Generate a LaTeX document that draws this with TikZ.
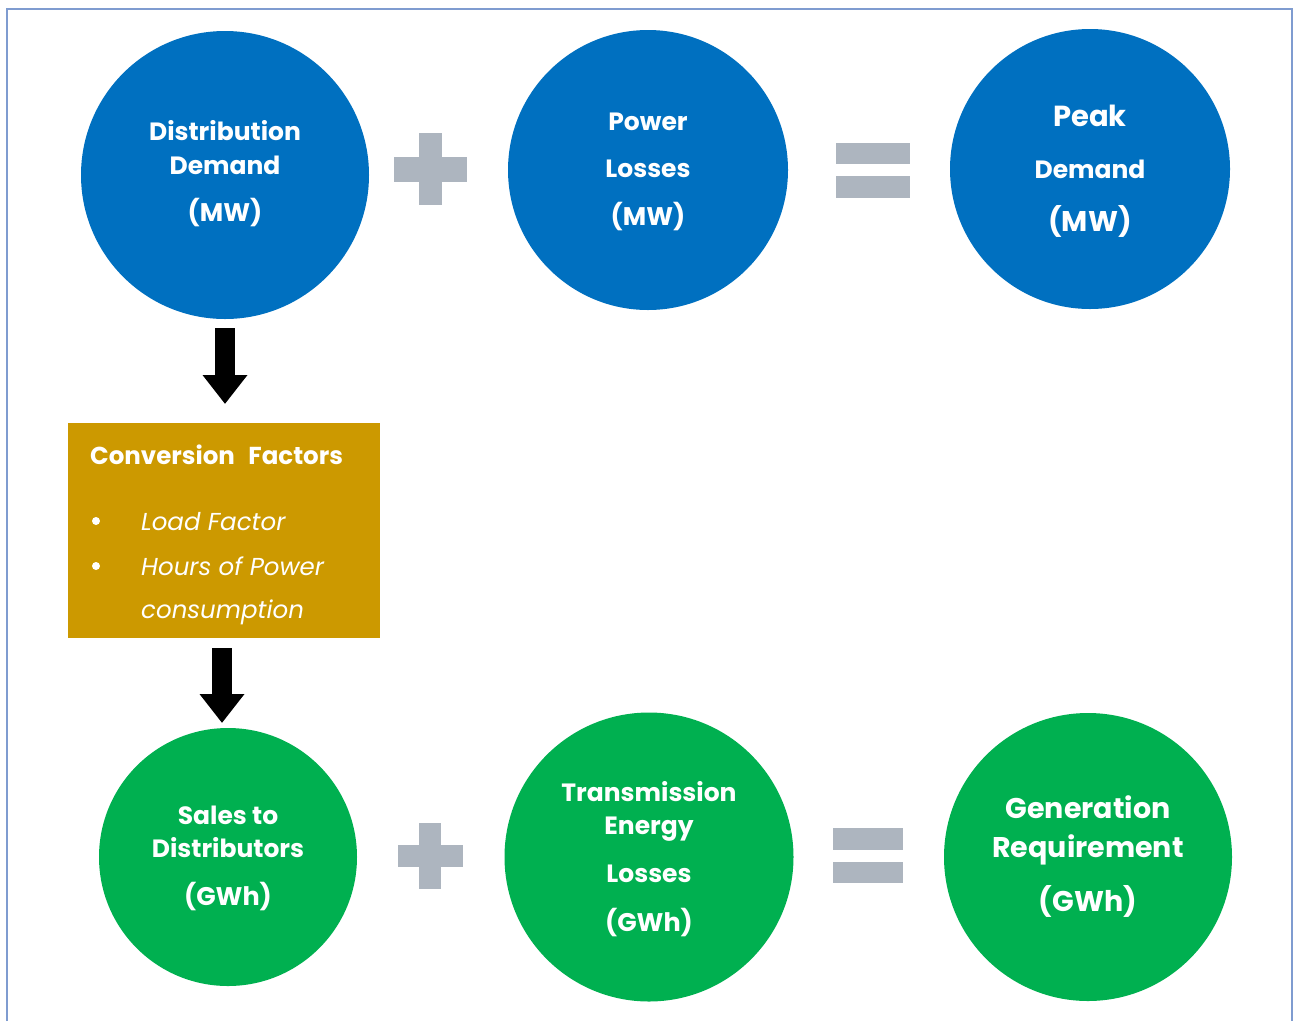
\documentclass[tikz,border=0pt]{standalone}
\usepackage{fontspec}
\setmainfont{Poppins}
\usetikzlibrary{arrows.meta}
\definecolor{cblue}{HTML}{0070C0}
\definecolor{cgreen}{HTML}{00B050}
\definecolor{cgold}{HTML}{CC9900}
\definecolor{cgray}{HTML}{ADB5BF}
\definecolor{cframe}{HTML}{7F9CD0}
\tikzset{
  bubble/.style={circle, inner sep=0pt, draw=none},
  lbl/.style={text=white, anchor=base, inner sep=0pt, font=\bfseries\fontsize{#1}{#1}\selectfont},
  lbl/.default=25,
  bar/.style={fill=cgray, draw=none, inner sep=0pt, rectangle},
  blockarrow/.style={line width=20pt, -{Triangle[width=43pt,length=29pt]}},
  item/.style={text=white, anchor=base west, inner sep=0pt, font=\itshape\fontsize{24.5}{24.5}\selectfont},
  bullet/.style={circle, fill=white, inner sep=0pt, minimum size=8pt},
}
\begin{document}
\begin{tikzpicture}[x=1pt,y=-1pt]
\useasboundingbox (0,0) rectangle (1298,1021);
\draw[cframe, line width=1.5pt] (7,1021) -- (7,9) -- (1292,9) -- (1292,1021);

% circles
\node[bubble, fill=cblue, minimum size=288pt] (c1) at (225,175) {};
\node[bubble, fill=cblue, minimum size=280pt] (c2) at (648,170) {};
\node[bubble, fill=cblue, minimum size=280pt] (c3) at (1090,169) {};
\node[bubble, fill=cgreen, minimum size=258pt] (c4) at (228,857) {};
\node[bubble, fill=cgreen, minimum size=289pt] (c5) at (649,857) {};
\node[bubble, fill=cgreen, minimum size=288pt] (c6) at (1088,857) {};

% labels
\node[lbl] (t1a) at (225,140) {Distribution};
\node[lbl] (t1b) at (225,174) {Demand};
\node[lbl=25.5] (t1c) at (225,221) {(MW)};
\node[lbl] (t2a) at (648,130) {Power};
\node[lbl] (t2b) at (648,177) {Losses};
\node[lbl=25.5] (t2c) at (648,225) {(MW)};
\node[lbl=29] (t3a) at (1090,126) {Peak};
\node[lbl] (t3b) at (1090,178) {Demand};
\node[lbl=28.5] (t3c) at (1090,231) {(MW)};
\node[lbl] (t4a) at (228,824) {Sales to};
\node[lbl] (t4b) at (228,857) {Distributors};
\node[lbl=25.5] (t4c) at (228,905) {(GWh)};
\node[lbl] (t5a) at (649,801) {Transmission};
\node[lbl] (t5b) at (649,834) {Energy};
\node[lbl] (t5c) at (649,882) {Losses};
\node[lbl=25.5] (t5d) at (649,931) {(GWh)};
\node[lbl=28.5] (t6a) at (1088,818) {Generation};
\node[lbl=28.5] (t6b) at (1088,857) {Requirement};
\node[lbl=28.5] (t6c) at (1088,911) {(GWh)};

% plus / equals
\node[bar, minimum width=73pt, minimum height=25pt] (p1h) at (430,169) {};
\node[bar, minimum width=23pt, minimum height=72pt] (p1v) at (430,169) {};
\node[bar, minimum width=74pt, minimum height=21pt] (e1a) at (873,153) {};
\node[bar, minimum width=74pt, minimum height=22pt] (e1b) at (873,187) {};
\node[bar, minimum width=65pt, minimum height=22pt] (p2h) at (430,856) {};
\node[bar, minimum width=22pt, minimum height=66pt] (p2v) at (430,856) {};
\node[bar, minimum width=70pt, minimum height=22pt] (e2a) at (868,839) {};
\node[bar, minimum width=70pt, minimum height=21pt] (e2b) at (868,872) {};

% conversion box
\node[fill=cgold, minimum width=312pt, minimum height=215pt, inner sep=0pt] (box) at (224,530.5) {};
\node[text=white, anchor=base west, inner sep=0pt, font=\bfseries\fontsize{24.5}{24.5}\selectfont] (bt) at (90,464) {Conversion\hspace{0.55em}Factors};
\node[bullet] (b1) at (96,521) {};
\node[bullet] (b2) at (96,566) {};
\node[item] (i1) at (141,530) {Load Factor};
\node[item] (i2) at (141,575) {Hours of Power};
\node[item] (i3) at (141,618) {consumption};

% arrows
\coordinate (a1s) at (225,328);
\coordinate (a1e) at (225,404);
\coordinate (a2s) at (222,648);
\coordinate (a2e) at (222,723);
\draw[blockarrow] (a1s) -- (a1e);
\draw[blockarrow] (a2s) -- (a2e);
\end{tikzpicture}
\end{document}
